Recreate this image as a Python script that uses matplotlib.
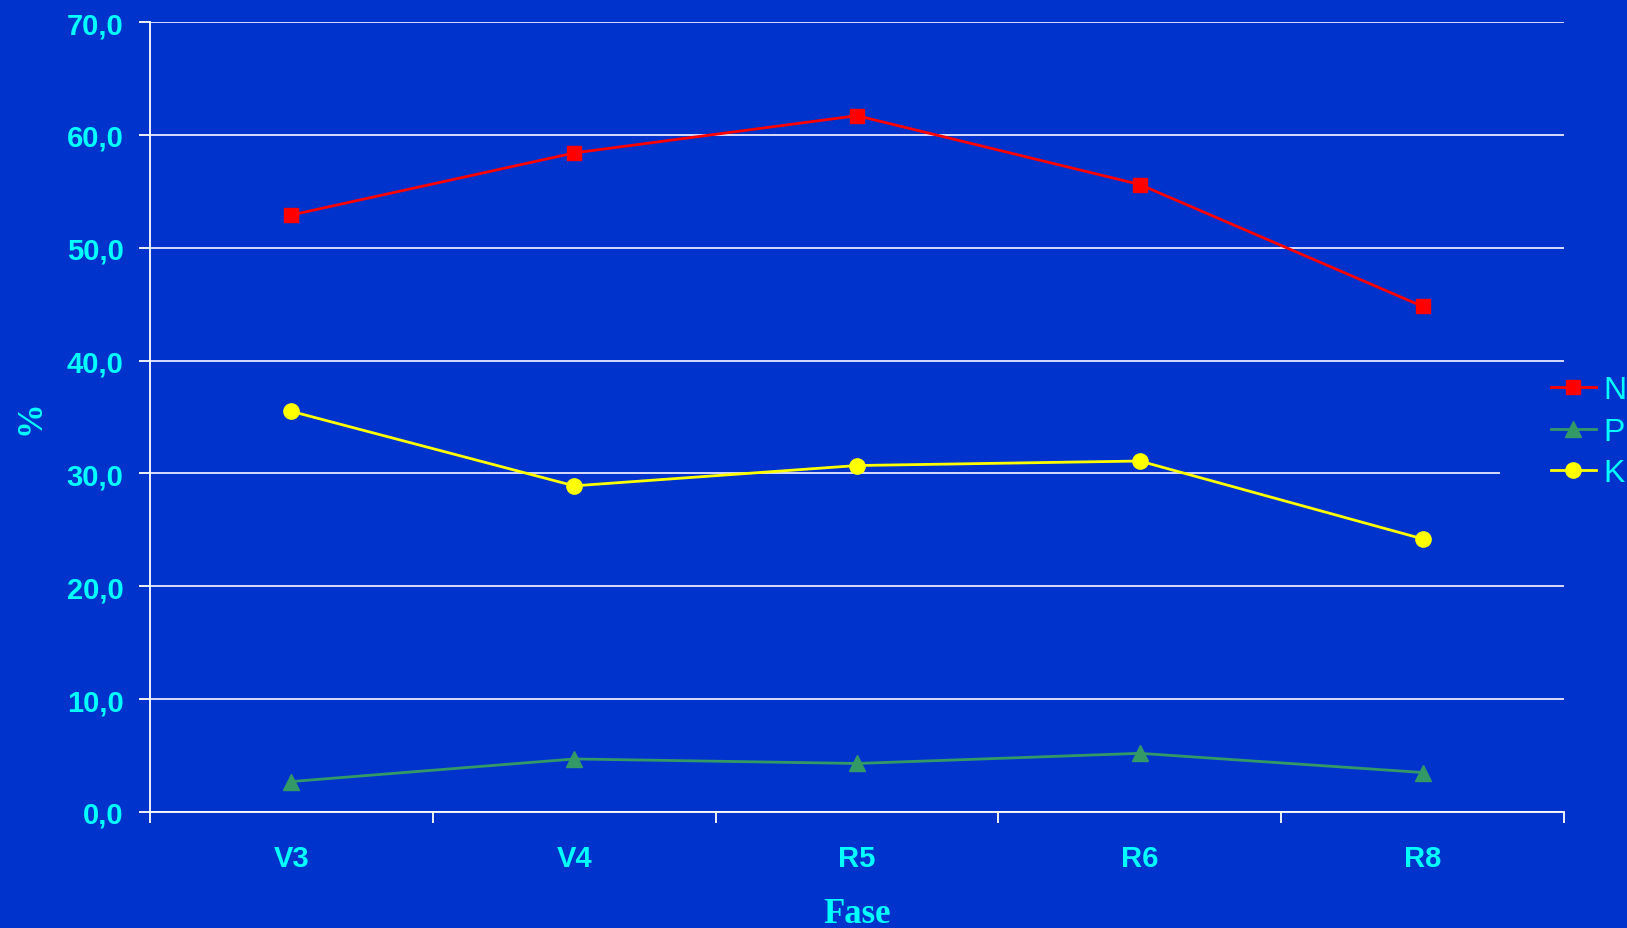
import matplotlib.pyplot as plt
from matplotlib.patches import Rectangle
import numpy as np

# dati
fasi = ['V3', 'V4', 'R5', 'R6', 'R8']
N = [52.9, 58.4, 61.7, 55.6, 44.8]
P = [2.7, 4.7, 4.3, 5.2, 3.5]
K = [35.5, 28.9, 30.7, 31.1, 24.2]

bg = '#0033cc'
testo = '#00ffff'

fig = plt.figure(figsize=(16.27, 9.29), dpi=100, facecolor=bg)
ax = fig.add_axes([150/1627, 1-813/929, (1564-150)/1627, (813-23)/929])
ax.set_facecolor(bg)

x = np.arange(len(fasi)) + 0.5
ax.plot(x, N, color='#ff0000', lw=2, marker='s', ms=10, label='N', zorder=3)
ax.plot(x, P, color='#339966', lw=2, marker='^', ms=12, label='P', zorder=3)
ax.plot(x, K, color='#ffff00', lw=2, marker='o', ms=11, label='K', zorder=3)

ax.set_xlim(0, len(fasi))
ax.set_ylim(0, 70)
ax.set_yticks(np.arange(0, 71, 10))
ax.set_yticklabels([f'{v:.1f}'.replace('.', ',') for v in np.arange(0, 71, 10)])
ax.grid(axis='y', color='#e8e8ff', lw=1.3)
ax.set_axisbelow(True)

ax.set_xticks(np.arange(len(fasi) + 1))
ax.set_xticklabels([])
ax.set_xticks(x, minor=True)
ax.set_xticklabels(fasi, minor=True)
ax.tick_params(axis='x', which='major', length=8, width=1.3, color='white', direction='out')
ax.tick_params(axis='x', which='minor', length=0, pad=23, labelsize=21, labelcolor=testo)
ax.tick_params(axis='y', length=8, width=1.3, color='white', pad=11, labelsize=21, labelcolor=testo)
for lbl in ax.get_xticklabels(minor=True) + ax.get_yticklabels():
    lbl.set_fontweight('bold')
    lbl.set_family('Liberation Sans')

for s in ['top', 'right']:
    ax.spines[s].set_visible(False)
for s in ['left', 'bottom']:
    ax.spines[s].set_color('white')
    ax.spines[s].set_linewidth(1.3)

ax.set_xlabel('Fase', fontsize=25, fontweight='bold', family='Liberation Serif', color=testo, labelpad=18)
ax.set_ylabel('%', fontsize=25, fontweight='bold', family='Liberation Serif', color=testo, labelpad=14)

# riquadro della legenda (copre la griglia)
fig.patches.append(Rectangle((1500/1627, 1-500/929), 130/1627, 120/929, transform=fig.transFigure,
                             facecolor=bg, edgecolor='none', zorder=2))

leg = fig.legend(loc='center left', bbox_to_anchor=(1551/1627, 1-433/929), frameon=False,
                 fontsize=23, handlelength=1.4, handletextpad=0.25, labelspacing=0.36,
                 borderpad=0, borderaxespad=0)
leg.set_zorder(3)
for t in leg.get_texts():
    t.set_color(testo)
    t.set_family('Liberation Sans')

fig.savefig('out.png', dpi=100, facecolor=bg)
